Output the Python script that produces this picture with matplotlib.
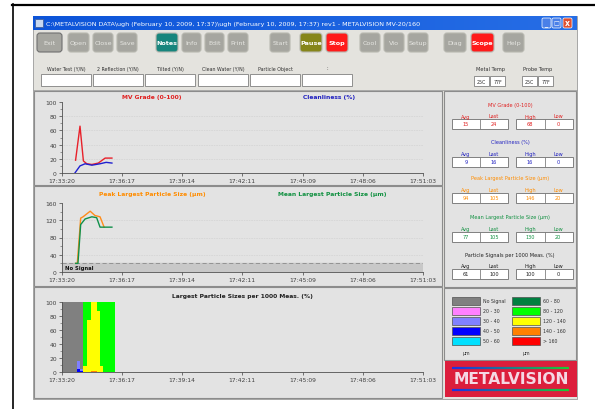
import numpy as np
import matplotlib
matplotlib.use('Agg')
import matplotlib.pyplot as plt
from matplotlib.patches import Rectangle, FancyBboxPatch
from matplotlib.ticker import AutoMinorLocator

W, H = 595, 410

# time axis, seconds after 17:33:20
time_ticks = [0, 177, 354, 531, 709, 886, 1063]
time_labels = ['17:33:20', '17:36:17', '17:39:14', '17:42:11', '17:45:09', '17:48:06', '17:51:03']

# MV grade / cleanliness
mv_t = [40, 53, 63, 73, 88, 107, 127, 147]
mv_grade = [18, 66, 17, 13, 12, 14, 21, 21]
clean_t = [38, 53, 68, 88, 112, 130, 147]
cleanliness = [0, 10, 13, 11, 13, 15, 14]

# largest particle size (um)
peak_t = [40, 45, 55, 62, 83, 97, 112, 124]
peak_size = [20, 20, 125, 128, 141, 131, 128, 104]
mean_t = [40, 47, 55, 68, 88, 102, 112, 147]
mean_size = [20, 20, 110, 123, 128, 126, 104, 104]
no_signal_level = 20

# particle size distribution (%) per 1000 measurements
area_t = [0, 45, 53, 63, 73, 86, 102, 112, 122, 156]
pct_no_signal = [100, 84, 96, 0, 0, 0, 0, 0, 0, 0]
pct_30_40 = [0, 12, 2, 0, 0, 0, 0, 0, 0, 0]
pct_40_50 = [0, 4, 2, 0, 0, 0, 0, 0, 0, 0]
pct_80_120 = [0, 0, 0, 92, 25, 0, 13, 92, 100, 100]
pct_120_140 = [0, 0, 0, 8, 75, 98, 87, 8, 0, 0]
pct_140_160 = [0, 0, 0, 0, 0, 2, 0, 0, 0, 0]

# legend classes
legend_left = ['No Signal', '20 - 30', '30 - 40', '40 - 50', '50 - 60']
legend_right = ['60 - 80', '80 - 120', '120 - 140', '140 - 160', '> 160']
colors_left = ['#808080', '#ff80ff', '#8080ff', '#0000ff', '#00e0ff']
colors_right = ['#008040', '#00ff00', '#ffff00', '#ff8000', '#ff0000']

# stats boxes: (title, colour, avg, last, high, low)
stats = [
    ('MV Grade (0-100)', '#e02020', '15', '24', '68', '0'),
    ('Cleanliness (%)', '#2020c0', '9', '16', '16', '0'),
    ('Peak Largest Particle Size (\u00b5m)', '#ff8c00', '94', '105', '146', '20'),
    ('Mean Largest Particle Size (\u00b5m)', '#109040', '77', '105', '130', '20'),
    ('Particle Signals per 1000 Meas. (%)', '#202020', '61', '100', '100', '0'),
]

buttons = [('Exit', 37, 62), ('Open', 68, 89), ('Close', 93, 113), ('Save', 117, 137),
           ('Notes', 156, 178), ('Info', 182, 201), ('Edit', 205, 224), ('Print', 228, 248),
           ('Start', 270, 290), ('Pause', 300, 322), ('Stop', 326, 348), ('Cool', 360, 380),
           ('Vio', 384, 404), ('Setup', 408, 428), ('Diag', 444, 466), ('Scope', 471, 494),
           ('Help', 503, 524)]
button_colors = {'Notes': '#17857d', 'Pause': '#86861a', 'Stop': '#ff1a1a', 'Scope': '#ff1a1a'}

inputs = ['Water Test (Y/N)', '2 Reflection (Y/N)', 'Tilted (Y/N)', 'Clean Water (Y/N)',
          'Particle Object', ':']
input_x = [41, 93, 145, 198, 250, 302]

fig = plt.figure(figsize=(W / 100, H / 100), dpi=100)
bg = fig.add_axes([0, 0, 1, 1])
bg.set_xlim(0, W)
bg.set_ylim(H, 0)
bg.axis('off')


def rect(x, y, w, h, fc, ec='none', lw=0.6, z=1):
    bg.add_patch(Rectangle((x, y), w, h, facecolor=fc, edgecolor=ec, linewidth=lw, zorder=z))


def txt(x, y, s, size=4.2, color='#303030', ha='center', weight='normal', z=5):
    bg.text(x, y, s, fontsize=size, color=color, ha=ha, va='center', fontweight=weight, zorder=z)


# page frame
bg.plot([12, 595], [5.5, 5.5], color='black', lw=1.6)
bg.plot([12.5, 12.5], [5, 410], color='black', lw=1.2)

# window
rect(33, 17, 544, 383, '#e4e3de', ec='#9a9a9a')
# title bar
bar = np.linspace(0, 1, 200).reshape(1, -1)
bg.imshow(np.dstack([0.05 + 0.1 * bar, 0.33 + 0.1 * bar, 0.85 + 0.05 * bar]),
          extent=(33, 577, 31, 17), aspect='auto', zorder=2)
bg.set_xlim(0, W)
bg.set_ylim(H, 0)
rect(35, 19.5, 8, 8, '#c8d8f0', ec='#4060a0', z=3)
txt(46, 24.3, 'C:\\METALVISION DATA\\ugh (February 10, 2009, 17:37)\\ugh (February 10, 2009, 17:37) rev1'
    ' - METALVISION MV-20/160', size=4.6, color='white', ha='left')
for x0, fc in [(542, '#4a80e8'), (552, '#4a80e8'), (563, '#e05030')]:
    bg.add_patch(FancyBboxPatch((x0, 19), 9, 10, boxstyle='round,pad=0,rounding_size=1.5',
                                facecolor=fc, edgecolor='white', linewidth=0.5, zorder=3))
txt(546.5, 25.5, '_', size=4.5, color='white', weight='bold')
txt(556.5, 24, '\u25a1', size=4.5, color='white')
txt(567.5, 24, 'x', size=5.5, color='white', weight='bold')

# toolbar buttons
for name, x0, x1 in buttons:
    fc = button_colors.get(name, '#a6a6a0')
    ec = '#707070' if name == 'Exit' else '#b8b8b0'
    bg.add_patch(FancyBboxPatch((x0, 34), x1 - x0, 19, boxstyle='round,pad=0,rounding_size=3',
                                facecolor=fc, edgecolor=ec, linewidth=0.8, zorder=3))
    tc = 'white' if name in button_colors else '#e6e6e2'
    txt((x0 + x1) / 2, 43.5, name, size=4.6, color=tc, weight='bold' if name in button_colors else 'normal')

# input row
for label, x0 in zip(inputs, input_x):
    txt(x0 + 25, 69, label, size=3.4)
    rect(x0, 75, 50, 12, 'white', ec='#808080')
txt(490, 69, 'Metal Temp', size=3.6)
txt(538, 69, 'Probe Temp', size=3.6)
for x0, s in [(474, '25C'), (490, '77F'), (522, '25C'), (538, '77F')]:
    rect(x0, 77, 15, 10, 'white', ec='#808080')
    txt(x0 + 7.5, 82, s, size=3.4)
bg.plot([33, 577], [90.5, 90.5], color='#a0a0a0', lw=0.6)

# chart panels
for y0, y1 in [(92, 186), (187, 287), (288, 399)]:
    rect(34, y0, 408, y1 - y0, '#e3e3e3', ec='#8c8c8c', lw=0.8)
rect(444, 92, 132, 196, '#e3e3e3', ec='#8c8c8c', lw=0.8)
rect(444, 289, 132, 72, '#e3e3e3', ec='#8c8c8c', lw=0.8)


def chart_axes(y_top, y_bot, ymax, yticks, grid=True):
    ax = fig.add_axes([62 / W, 1 - y_bot / H, (423 - 62) / W, (y_bot - y_top) / H])
    ax.set_facecolor('none')
    ax.set_xlim(0, 1063)
    ax.set_ylim(0, ymax)
    ax.set_xticks(time_ticks)
    ax.set_xticklabels(time_labels)
    ax.set_yticks(yticks)
    ax.yaxis.set_minor_locator(AutoMinorLocator(2))
    for side in ['top', 'right']:
        ax.spines[side].set_visible(False)
    for side in ['left', 'bottom']:
        ax.spines[side].set_color('#505050')
        ax.spines[side].set_linewidth(0.6)
    ax.tick_params(labelsize=4.3, colors='#404040', length=2.5, width=0.5, pad=1.2)
    ax.tick_params(which='minor', length=1.5, width=0.4, colors='#505050')
    if grid:
        for v in yticks[1:-1]:
            ax.axhline(v, color='#bdbdbd', lw=0.4, ls=(0, (1, 2)), zorder=0)
    return ax


ax1 = chart_axes(103, 174, 100, [0, 20, 40, 60, 80, 100])
ax1.plot(mv_t, mv_grade, color='#e8202a', lw=1.0)
ax1.plot(clean_t, cleanliness, color='#2020d0', lw=1.0)
ax1.text(0.25, 1.06, 'MV Grade (0-100)', transform=ax1.transAxes, fontsize=4.3, color='#e02020',
         fontweight='bold', ha='center')
ax1.text(0.74, 1.06, 'Cleanliness (%)', transform=ax1.transAxes, fontsize=4.3, color='#2020c0',
         fontweight='bold', ha='center')

ax2 = chart_axes(204, 273, 160, [0, 40, 80, 120, 160])
ax2.axhspan(0, no_signal_level, color='#c8c8c8', zorder=0)
ax2.axhline(no_signal_level, color='#8a8a8a', lw=0.6, ls=(0, (5, 3)))
ax2.text(10, no_signal_level / 2, 'No Signal', fontsize=3.8, fontweight='bold', va='center', color='#101010')
ax2.plot(peak_t, peak_size, color='#ff8c1a', lw=1.0)
ax2.plot(mean_t, mean_size, color='#10904a', lw=1.0)
ax2.text(0.25, 1.12, 'Peak Largest Particle Size (\u00b5m)', transform=ax2.transAxes, fontsize=4.3,
         color='#ff8c00', fontweight='bold', ha='center')
ax2.text(0.75, 1.12, 'Mean Largest Particle Size (\u00b5m)', transform=ax2.transAxes, fontsize=4.3,
         color='#109040', fontweight='bold', ha='center')

ax3 = chart_axes(303, 373, 100, [0, 20, 40, 60, 80, 100], grid=False)
layers = [(pct_140_160, '#ff8000'), (pct_120_140, '#ffff00'), (pct_80_120, '#00ff00'),
          (pct_40_50, '#0000ff'), (pct_30_40, '#8080ff'), (pct_no_signal, '#808080')]
base = np.zeros(len(area_t))
for vals, c in layers:
    top = base + np.array(vals, dtype=float)
    ax3.fill_between(area_t, base, top, step='post', color=c, lw=0)
    base = top
ax3.text(0.5, 1.07, 'Largest Particle Sizes per 1000 Meas. (%)', transform=ax3.transAxes,
         fontsize=4.3, color='#202020', fontweight='bold', ha='center')

# statistics column
stat_y = [105, 143, 179, 218, 255]
for (title, c, avg, last, high, low), y in zip(stats, stat_y):
    txt(510, y, title, size=3.6, color=c)
    for cx, lab in [(466, 'Avg'), (494, 'Last'), (530, 'High'), (558, 'Low')]:
        txt(cx, y + 12, lab, size=3.6, color=c)
    for x0, x1 in [(452, 508), (516, 573)]:
        rect(x0, y + 15, x1 - x0, 10, 'white', ec='#808080', lw=0.7)
        bg.plot([(x0 + x1) / 2] * 2, [y + 15, y + 25], color='#808080', lw=0.6, zorder=2)
    for cx, v in [(466, avg), (494, last), (530, high), (558, low)]:
        txt(cx, y + 20, v, size=3.6, color=c)

# colour legend
for i in range(5):
    y = 298 + i * 10
    rect(452, y, 28, 8, colors_left[i], ec='#505050', lw=0.5)
    txt(483, y + 4, legend_left[i], size=3.4, ha='left')
    rect(512, y, 28, 8, colors_right[i], ec='#505050', lw=0.5)
    txt(543, y + 4, legend_right[i], size=3.4, ha='left')
txt(466, 354, '\u00b5m', size=3.4)
txt(526, 354, '\u00b5m', size=3.4)

# logo
rect(445, 362, 132, 36, '#dc1e3c')
grad = np.linspace(0, 1, 100)
for yl in [368.5, 391]:
    for i in range(len(grad) - 1):
        xa = 452 + i * 1.18
        bg.plot([xa, xa + 1.2], [yl, yl], color=(0.1, 0.2 + 0.6 * grad[i], 0.9 - 0.7 * grad[i]),
                lw=1.6, solid_capstyle='butt', zorder=3)
txt(511, 380, 'METALVISION', size=11.2, color='#f4d8e4', weight='bold', z=4)

fig.savefig('out.png', dpi=100)
